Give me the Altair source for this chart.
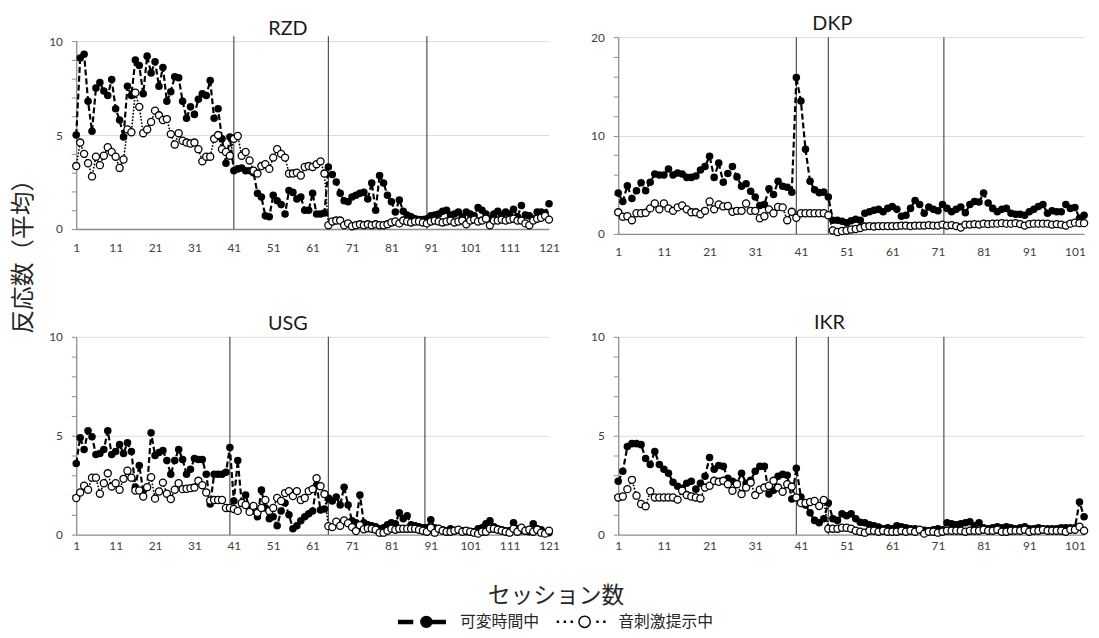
import altair as alt
import pandas as pd

SERIES = ["可変時間中", "音刺激提示中"]
Y_TITLE = "反応数（平均）"
X_TITLE = "セッション数"

RZD_A = [5.0, 9.1, 9.3, 6.8, 5.2, 7.5, 7.8, 7.35, 7.1, 7.95,
         6.4, 5.8, 4.9, 7.6, 7.1, 9.0, 8.7, 7.2, 9.2, 8.3,
         8.9, 7.6, 8.6, 6.8, 7.3, 8.1, 8.05, 6.8, 5.9, 6.5,
         6.1, 6.9, 7.2, 7.1, 7.9, 5.9, 6.4, 4.8, 3.5, 4.9,
         3.1, 3.2, 3.25, 3.1, 3.1, 3.0, 1.9, 1.7, 0.7, 0.65,
         1.8, 1.5, 1.3, 0.8, 2.05, 1.95, 1.6, 1.7, 1.0, 1.0,
         1.9, 0.8, 0.8, 0.85, 3.3, 2.9, 2.5, 1.9, 1.5, 1.45,
         1.7, 1.8, 1.9, 1.95, 1.6, 2.45, 1.0, 2.85, 2.45, 1.8,
         1.45, 0.9, 1.55, 0.95, 0.75, 0.65, 0.55, 0.5, 0.5, 0.55,
         0.7, 0.75, 0.8, 0.95, 1.0, 0.75, 0.8, 0.9, 0.65, 0.9,
         0.8, 0.7, 1.15, 1.0, 0.8, 0.55, 0.8, 0.95, 0.75, 0.9,
         0.8, 1.05, 0.65, 1.25, 0.75, 0.7, 0.55, 0.9, 0.9, 0.85, 1.35]
RZD_B = [3.35, 4.6, 4.0, 3.5, 2.8, 3.85, 3.4, 3.9, 4.35, 4.1,
         3.85, 3.25, 3.7, 5.3, 5.15, 7.25, 6.5, 5.1, 5.3, 5.7,
         6.3, 6.05, 5.8, 5.85, 5.05, 4.5, 5.1, 4.7, 4.6, 4.55,
         4.6, 4.25, 3.6, 3.85, 3.85, 4.8, 5.0, 4.25, 4.1, 3.9,
         4.8, 4.95, 3.9, 4.1, 3.65, 3.1, 2.95, 3.35, 3.45, 3.2,
         3.8, 4.25, 4.0, 3.8, 2.95, 2.95, 3.0, 2.85, 3.3, 3.35,
         3.3, 3.45, 3.6, 2.95, 0.2, 0.4, 0.45, 0.45, 0.2, 0.3,
         0.15, 0.2, 0.25, 0.2, 0.25, 0.2, 0.25, 0.2, 0.2, 0.25,
         0.35, 0.4, 0.3, 0.45, 0.4, 0.35, 0.4, 0.4, 0.35, 0.3,
         0.4, 0.45, 0.4, 0.35, 0.4, 0.45, 0.35, 0.4, 0.45, 0.25,
         0.45, 0.5, 0.4, 0.45, 0.55, 0.2, 0.45, 0.45, 0.5, 0.45,
         0.5, 0.55, 0.45, 0.45, 0.3, 0.2, 0.45, 0.55, 0.6, 0.7, 0.5]

DKP_A = [4.15, 3.3, 4.9, 3.6, 4.4, 5.2, 4.4, 5.25, 6.1, 6.0,
         6.0, 6.6, 6.0, 6.2, 6.1, 5.75, 5.75, 5.9, 6.5, 6.85,
         7.9, 5.75, 7.2, 5.25, 6.15, 6.85, 5.8, 4.85, 5.1, 4.35,
         3.75, 2.9, 3.0, 4.6, 4.0, 5.35, 4.85, 4.75, 4.25, 15.9,
         13.5, 8.6, 5.35, 4.5, 4.2, 4.25, 3.75, 1.4, 1.4, 1.3,
         1.15, 1.35, 1.5, 1.4, 2.1, 2.25, 2.4, 2.5, 2.25, 2.6,
         2.8, 2.5, 1.8, 1.9, 2.6, 3.4, 3.0, 2.1, 2.75, 2.5,
         2.35, 3.0, 2.6, 2.25, 2.5, 2.75, 2.15, 3.0, 3.3, 3.25,
         4.15, 3.15, 2.6, 2.25, 2.5, 2.6, 2.1, 2.0, 2.0, 1.9,
         2.25, 2.5, 2.8, 3.0, 2.1, 2.35, 2.25, 2.25, 3.0, 2.6,
         2.7, 1.6, 1.9]
DKP_B = [2.2, 1.75, 1.8, 1.4, 2.1, 2.1, 2.15, 2.6, 3.1, 2.5,
         3.1, 2.6, 2.35, 2.7, 2.9, 2.5, 2.2, 2.2, 2.0, 2.35,
         3.3, 2.5, 3.0, 2.8, 2.85, 2.25, 2.35, 2.35, 3.1, 2.35,
         2.35, 1.6, 1.8, 2.5, 2.1, 2.75, 2.7, 1.4, 2.25, 1.65,
         2.1, 2.1, 2.1, 2.1, 2.1, 2.1, 1.9, 0.35, 0.2, 0.3,
         0.35, 0.45, 0.5, 0.6, 0.75, 0.8, 0.75, 0.8, 0.8, 0.8,
         0.8, 0.8, 0.85, 0.85, 0.8, 0.85, 0.85, 0.85, 0.9, 0.85,
         0.85, 0.95, 0.85, 0.9, 0.8, 0.65, 0.95, 0.95, 1.0, 0.95,
         1.05, 1.0, 1.05, 1.05, 1.1, 1.05, 1.05, 1.1, 1.0, 0.85,
         1.0, 1.05, 1.05, 1.05, 1.05, 0.95, 1.0, 0.95, 0.85, 1.05,
         1.15, 1.1, 1.1]

USG_A = [3.6, 4.9, 4.3, 5.25, 4.95, 4.05, 4.1, 4.3, 5.25, 4.05,
         4.2, 4.55, 4.1, 4.65, 4.2, 2.4, 3.5, 2.2, 2.4, 5.15,
         4.0, 4.15, 4.25, 3.75, 3.05, 3.75, 4.3, 3.8, 3.05, 3.3,
         3.85, 3.8, 3.8, 3.05, 1.55, 3.05, 3.05, 3.05, 3.15, 4.4,
         1.7, 3.75, 1.6, 2.0, 1.3, 1.2, 0.9, 2.25, 1.35, 0.8,
         0.9, 0.45, 1.2, 1.6, 1.0, 0.3, 0.45, 0.7, 0.9, 1.05,
         1.2, 2.5, 1.25, 1.3, 1.85, 1.7, 1.9, 1.5, 2.4, 1.5,
         0.7, 0.6, 2.0, 0.6, 0.5, 0.45, 0.4, 0.3, 0.35, 0.5,
         0.6, 0.55, 1.1, 0.8, 0.95, 0.5, 0.45, 0.4, 0.35, 0.35,
         0.75, 0.35, 0.3, 0.25, 0.2, 0.3, 0.2, 0.25, 0.2, 0.15,
         0.15, 0.15, 0.3, 0.35, 0.55, 0.7, 0.4, 0.3, 0.25, 0.2,
         0.2, 0.6, 0.3, 0.2, 0.2, 0.15, 0.55, 0.3, 0.25, 0.1, 0.1]
USG_B = [1.85, 2.13, 2.47, 2.27, 2.88, 2.88, 2.07, 2.6, 3.1, 2.43,
         2.6, 2.27, 2.82, 3.23, 2.88, 2.23, 2.23, 1.93, 2.4, 2.9,
         1.82, 2.18, 2.63, 2.07, 1.8, 2.27, 2.6, 2.3, 2.32, 2.35,
         2.38, 2.72, 2.5, 2.13, 1.72, 1.75, 1.75, 1.75, 1.35, 1.35,
         1.3, 1.2, 1.6, 1.5, 1.15, 1.45, 1.1, 1.35, 1.75, 1.2,
         1.35, 1.85, 1.7, 2.1, 2.2, 1.95, 2.2, 1.75, 1.85, 2.2,
         2.3, 2.85, 2.45, 2.05, 0.43, 0.38, 0.65, 0.45, 0.72, 0.58,
         0.38, 0.18, 0.48, 0.27, 0.32, 0.3, 0.25, 0.1, 0.1, 0.2,
         0.3, 0.25, 0.3, 0.3, 0.3, 0.3, 0.3, 0.25, 0.2, 0.15,
         0.35, 0.1, 0.3, 0.2, 0.15, 0.15, 0.2, 0.25, 0.15, 0.2,
         0.15, 0.1, 0.05, 0.15, 0.15, 0.3, 0.3, 0.25, 0.2, 0.15,
         0.1, 0.3, 0.15, 0.35, 0.2, 0.25, 0.15, 0.25, 0.1, 0.05, 0.2]

IKR_A = [2.7, 3.2, 4.45, 4.6, 4.6, 4.55, 3.85, 3.55, 4.2, 3.55,
         3.3, 3.1, 2.65, 2.45, 2.35, 2.6, 2.7, 2.3, 2.6, 2.95,
         3.9, 3.3, 3.5, 3.45, 2.85, 2.7, 2.6, 3.1, 2.6, 2.75,
         3.2, 3.45, 3.45, 2.05, 2.25, 2.95, 3.05, 3.0, 1.8, 3.35,
         1.9, 1.5, 1.1, 0.72, 0.6, 0.8, 1.6, 0.8, 0.72, 1.05,
         0.95, 1.05, 0.8, 0.63, 0.6, 0.5, 0.45, 0.38, 0.3, 0.35,
         0.3, 0.45, 0.4, 0.35, 0.3, 0.3, 0.25, 0.22, 0.2, 0.25,
         0.3, 0.25, 0.6, 0.55, 0.5, 0.55, 0.6, 0.65, 0.45, 0.6,
         0.35, 0.3, 0.35, 0.4, 0.35, 0.4, 0.35, 0.3, 0.35, 0.4,
         0.3, 0.3, 0.35, 0.3, 0.3, 0.3, 0.3, 0.35, 0.35, 0.35,
         0.35, 1.65, 0.9]
IKR_B = [1.88, 1.93, 2.3, 2.77, 1.97, 1.55, 1.43, 2.2, 1.88, 1.88,
         1.88, 1.88, 1.88, 1.77, 2.22, 2.0, 1.93, 1.88, 1.83, 2.38,
         2.47, 2.72, 2.67, 2.72, 2.55, 2.22, 2.55, 2.05, 2.38, 2.63,
         2.0, 2.27, 2.38, 2.47, 2.72, 2.38, 2.17, 2.55, 2.43, 1.88,
         1.6, 1.6, 1.65, 1.7, 1.45, 1.75, 0.3, 0.3, 0.3, 0.35,
         0.35, 0.3, 0.2, 0.15, 0.1, 0.2, 0.2, 0.15, 0.2, 0.15,
         0.15, 0.15, 0.2, 0.15, 0.2, 0.15, 0.25, 0.05, 0.15, 0.15,
         0.1, 0.15, 0.2, 0.2, 0.2, 0.2, 0.15, 0.2, 0.2, 0.2,
         0.25, 0.2, 0.2, 0.25, 0.15, 0.15, 0.2, 0.2, 0.2, 0.25,
         0.15, 0.2, 0.2, 0.25, 0.2, 0.2, 0.2, 0.2, 0.15, 0.25,
         0.25, 0.4, 0.2]

RZD_PHASES = [41, 65, 90]
DKP_PHASES = [40, 47, 72.3]
USG_PHASES = [40, 65, 89.5]
IKR_PHASES = [40, 47, 72.3]

LATIN = "Lato"
CJK = "Noto Sans CJK JP"
AXIS_GRAY = "#8c8c8c"
TEXT_COL = "#262626"

# legend symbols (unit = 6 px): dash + filled circle + dash / dots + open circle + dots
PATH_A = ("M-4.67,-0.25H-2.33V0.25H-4.67Z M1.0,-0.25H3.17V0.25H1.0Z "
          "M-0.92,0A0.92,0.92 0 1,1 0.92,0A0.92,0.92 0 1,1 -0.92,0Z")
PATH_B = ("M-4.58,-0.08h0.16v0.16h-0.16Z M-3.41,-0.08h0.16v0.16h-0.16Z "
          "M-2.25,-0.08h0.16v0.16h-0.16Z M2.09,-0.08h0.16v0.16h-0.16Z "
          "M3.25,-0.08h0.16v0.16h-0.16Z "
          "M-0.95,0A0.95,0.95 0 1,1 0.95,0A0.95,0.95 0 1,1 -0.95,0Z")


def panel(title, a, b, phases, ymax, step, xmax, w, h, lab_pad, title_dx, title_off, rule_top=0):
    n = len(a)
    df = pd.DataFrame({
        "session": list(range(1, n + 1)) * 2,
        "value": a + b,
        "series": [SERIES[0]] * n + [SERIES[1]] * n,
    })
    major = ymax // 2
    xs = alt.Scale(domain=[1, xmax], nice=False, zero=False)
    ys = alt.Scale(domain=[0, ymax], nice=False)
    xaxis = alt.Axis(values=list(range(1, xmax + 1, 10)), title=None, ticks=False,
                     tickSize=0, grid=False, labelFlush=False, labelOverlap=False,
                     labelPadding=lab_pad, labelFontSize=12, labelFont=LATIN,
                     labelColor="#404040", domainColor=AXIS_GRAY, domainWidth=1.3)
    yaxis = alt.Axis(values=list(range(0, ymax + 1, step)), title=None,
                     labelExpr=f"datum.value % {major} === 0 ? datum.label : ''",
                     labelOverlap=False, labelFontSize=12, labelFont=LATIN,
                     labelColor="#404040", labelPadding=9, tickSize=5,
                     tickColor=AXIS_GRAY, domainColor=AXIS_GRAY, domainWidth=1.3,
                     grid=True, gridColor="#dcdcdc", gridWidth=1,
                     gridOpacity={"condition": {"test": f"datum.value % {major} === 0 && datum.value > 0",
                                                "value": 1}, "value": 0})
    base = alt.Chart(df).encode(
        x=alt.X("session:Q", scale=xs, axis=xaxis),
        y=alt.Y("value:Q", scale=ys, axis=yaxis),
    )
    rules = alt.Chart(pd.DataFrame({"pos": phases})).mark_rule(
        color="#505050", strokeWidth=1.2
    ).encode(
        x=alt.X("pos:Q", scale=xs, axis=xaxis),
        y=alt.value(rule_top), y2=alt.value(h),
    )
    sa = base.transform_filter(alt.datum.series == SERIES[0])
    sb = base.transform_filter(alt.datum.series == SERIES[1])
    line_a = sa.mark_line(color="black", strokeWidth=2.2, strokeDash=[6, 3])
    pts_a = sa.mark_point(filled=True, color="black", size=58, opacity=1)
    line_b = sb.mark_line(color="black", strokeWidth=1.8, strokeDash=[0.1, 3.2], strokeCap="round")
    pts_b = sb.mark_point(filled=True, fill="white", stroke="black", strokeWidth=1.3, size=52, opacity=1)
    ttl = alt.Chart(pd.DataFrame({"t": [title]})).mark_text(
        font=LATIN, fontSize=20, baseline="alphabetic", align="center", color="#1a1a1a"
    ).encode(text="t:N", x=alt.value(w / 2 + title_dx), y=alt.value(-title_off))
    return alt.layer(rules, line_a, pts_a, line_b, pts_b, ttl).properties(width=w, height=h)


rzd = panel("RZD", RZD_A, RZD_B, RZD_PHASES, 10, 1, 121, 478, 190, 14, -25, 6, -5)
dkp = panel("DKP", DKP_A, DKP_B, DKP_PHASES, 20, 2, 103, 471, 199, 13, -19, 7)
usg = panel("USG", USG_A, USG_B, USG_PHASES, 10, 1, 121, 478, 200, 6, -25, 7)
ikr = panel("IKR", IKR_A, IKR_B, IKR_PHASES, 10, 1, 103, 471, 200, 6, -22, 8)

# left column: shared y title
ytitle = alt.Chart(pd.DataFrame({"t": [Y_TITLE]})).mark_text(
    angle=270, font=CJK, fontSize=24, color=TEXT_COL
).encode(text="t:N", x=alt.value(12), y=alt.value(216)).properties(width=24, height=460)

# footer: x title + legend
leg = alt.Legend(title=None, orient="none", legendX=346, legendY=63,
                 direction="horizontal", symbolSize=144, symbolStrokeWidth=1.5,
                 symbolOpacity=1, labelFont=CJK, labelFontSize=16,
                 labelColor=TEXT_COL, labelOffset=26, columnPadding=14)
legend_layer = alt.Chart(pd.DataFrame({"series": SERIES})).transform_filter("false").mark_point(
    filled=True, strokeWidth=1.5, opacity=1
).encode(
    shape=alt.Shape("series:N", scale=alt.Scale(domain=SERIES, range=[PATH_A, PATH_B]), legend=leg),
    fill=alt.Fill("series:N", scale=alt.Scale(domain=SERIES, range=["black", "white"]), legend=leg),
    stroke=alt.Stroke("series:N", scale=alt.Scale(domain=SERIES, range=["black", "black"]), legend=leg),
)
xtitle = alt.Chart(pd.DataFrame({"t": [X_TITLE]})).mark_text(
    font=CJK, fontSize=23, color=TEXT_COL
).encode(text="t:N", x=alt.value(485), y=alt.value(45))
footer = alt.layer(xtitle, legend_layer).properties(width=1000, height=10)

top = alt.hconcat(rzd, dkp, spacing=31, center=True)
bottom = alt.hconcat(usg, ikr, spacing=31)
grid = alt.vconcat(top, bottom, spacing=56)
right = alt.vconcat(grid, footer, spacing=0).resolve_legend(
    shape="independent", fill="independent", stroke="independent")
chart = alt.hconcat(ytitle, right, spacing=13).resolve_legend(
    shape="independent", fill="independent", stroke="independent"
).properties(
    padding={"left": 3, "top": 3, "right": 0, "bottom": 0}, background="white"
).configure_view(stroke=None)

chart.save("out.html", embed_options={"renderer": "svg", "actions": False})
